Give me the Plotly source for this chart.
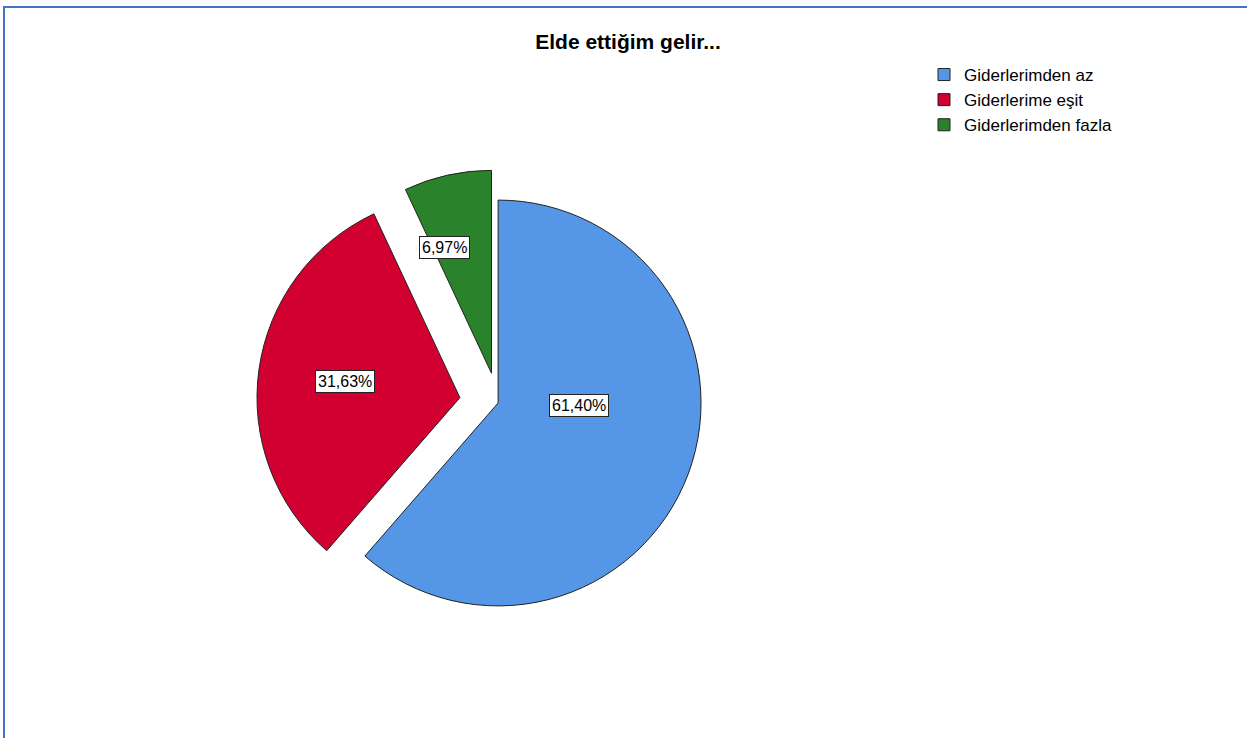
import math
import plotly.graph_objects as go

# slices, in order, starting at 12 o'clock and going clockwise
categories = ["Giderlerimden az", "Giderlerime eşit", "Giderlerimden fazla"]
percents = [61.40, 31.63, 6.97]
colors = ["#5596E6", "#D10031", "#2A832A"]
pulls = [0, 0.19, 0.15]
label_r = [0.40, 0.57, 0.66]      # where the boxed label sits, as a share of radius
label_turn = [-18.5, 0, -8]       # small angle nudge for the label, degrees

W, H = 1247, 738
dom_x = [0.2058, 0.5931]
dom_y = [0.1266, 0.7813]

fig = go.Figure(go.Pie(
    labels=categories,
    values=percents,
    sort=False,
    direction="clockwise",
    rotation=0,
    pull=pulls,
    marker=dict(colors=colors, line=dict(color="#222222", width=1)),
    textinfo="none",
    hoverinfo="label+percent",
    domain=dict(x=dom_x, y=dom_y),
))

# boxed percentage labels, placed from the slice angles
cx = (dom_x[0] + dom_x[1]) / 2 * W
cy = (1 - (dom_y[0] + dom_y[1]) / 2) * H
r = min((dom_x[1] - dom_x[0]) * W, (dom_y[1] - dom_y[0]) * H) / (2 + 2 * max(pulls))
total = sum(percents)
start = 0
for v, p, k, t in zip(percents, pulls, label_r, label_turn):
    mid = math.radians((start + v / 2) / total * 360)
    start += v
    px_ = cx + p * r * math.sin(mid) + k * r * math.sin(mid + math.radians(t))
    py_ = cy - p * r * math.cos(mid) - k * r * math.cos(mid + math.radians(t))
    fig.add_annotation(
        x=px_ / W, y=1 - py_ / H, xref="paper", yref="paper",
        xanchor="center", yanchor="middle",
        text=f"{v:.2f}".replace(".", ",") + "%",
        showarrow=False,
        font=dict(family="Liberation Sans, Arial", size=16, color="black"),
        bgcolor="white", bordercolor="#222222", borderwidth=1, borderpad=2,
    )

# frame lines at top and left
fig.add_shape(type="line", xref="paper", yref="paper", x0=3 / W, x1=1, y0=1 - 7 / H, y1=1 - 7 / H,
              line=dict(color="#4472C4", width=2))
fig.add_shape(type="line", xref="paper", yref="paper", x0=4 / W, x1=4 / W, y0=0, y1=1 - 6 / H,
              line=dict(color="#4472C4", width=2))

fig.update_layout(
    width=W, height=H,
    margin=dict(l=0, r=0, t=0, b=0),
    paper_bgcolor="white",
    title=dict(text="<b>Elde ettiğim gelir...</b>", x=628 / W, xanchor="center", y=1 - 42 / H, yanchor="middle",
               font=dict(family="Liberation Sans, Arial", size=21, color="black")),
    legend=dict(x=924 / W, y=1 - 57 / H, xanchor="left", yanchor="top",
                font=dict(family="Liberation Sans, Arial", size=17, color="black"),
                tracegroupgap=0, itemwidth=30),
)

fig.write_html("out.html", config={"displayModeBar": False},
               post_script="document.body.style.margin='0';")
